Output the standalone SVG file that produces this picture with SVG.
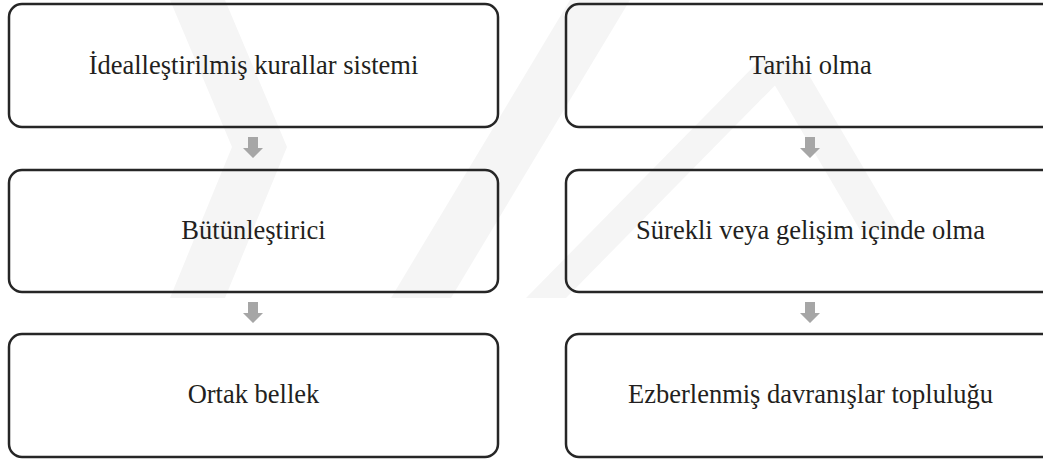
<svg xmlns="http://www.w3.org/2000/svg" width="1043" height="459" viewBox="0 0 1043 459">
<defs>
<style>
.box{fill:none;stroke:#262626;stroke-width:2.5}
.lbl{font-size:26.5px;fill:#231f20;text-anchor:middle}
.arr{fill:#a6a6a6}
.wm{fill:#f5f5f5}
</style>
<path id="arrow" d="M-5,0 H5 V11 H10 L0,21 L-10,11 H-5 Z"/>
</defs>
<rect width="1043" height="459" fill="#ffffff"/>
<g id="watermark">
<polygon class="wm" points="170,0 225,0 287,147 225,298 170,298 232,147"/>
<polygon class="wm" points="570,0 630,0 451,298 391,298"/>
<polygon class="wm" points="760,60 800,60 900,230 860,230"/>
<polygon class="wm" points="760,60 800,60 566,298 526,298"/>
</g>
<g id="connectors">
<use href="#arrow" class="arr" x="253" y="137"/>
<use href="#arrow" class="arr" x="253" y="302"/>
<use href="#arrow" class="arr" x="810" y="137"/>
<use href="#arrow" class="arr" x="810" y="302"/>
</g>
<g font-family="Liberation Serif, Times New Roman, DejaVu Serif, serif">
<g id="n1"><rect class="box" x="9" y="4" width="489" height="123" rx="13"/><text class="lbl" x="253.5" y="73.5">İdealleştirilmiş kurallar sistemi</text></g>
<g id="n2"><rect class="box" x="9" y="170" width="489" height="122" rx="13"/><text class="lbl" x="253.5" y="238.5">Bütünleştirici</text></g>
<g id="n3"><rect class="box" x="9" y="334" width="489" height="123" rx="13"/><text class="lbl" x="253.5" y="403">Ortak bellek</text></g>
<g id="n4"><rect class="box" x="566" y="4" width="489" height="123" rx="13"/><text class="lbl" x="810.5" y="73.5">Tarihi olma</text></g>
<g id="n5"><rect class="box" x="566" y="170" width="489" height="122" rx="13"/><text class="lbl" x="810.5" y="238.5">Sürekli veya gelişim içinde olma</text></g>
<g id="n6"><rect class="box" x="566" y="334" width="489" height="123" rx="13"/><text class="lbl" x="810.5" y="403">Ezberlenmiş davranışlar topluluğu</text></g>
</g>
</svg>
